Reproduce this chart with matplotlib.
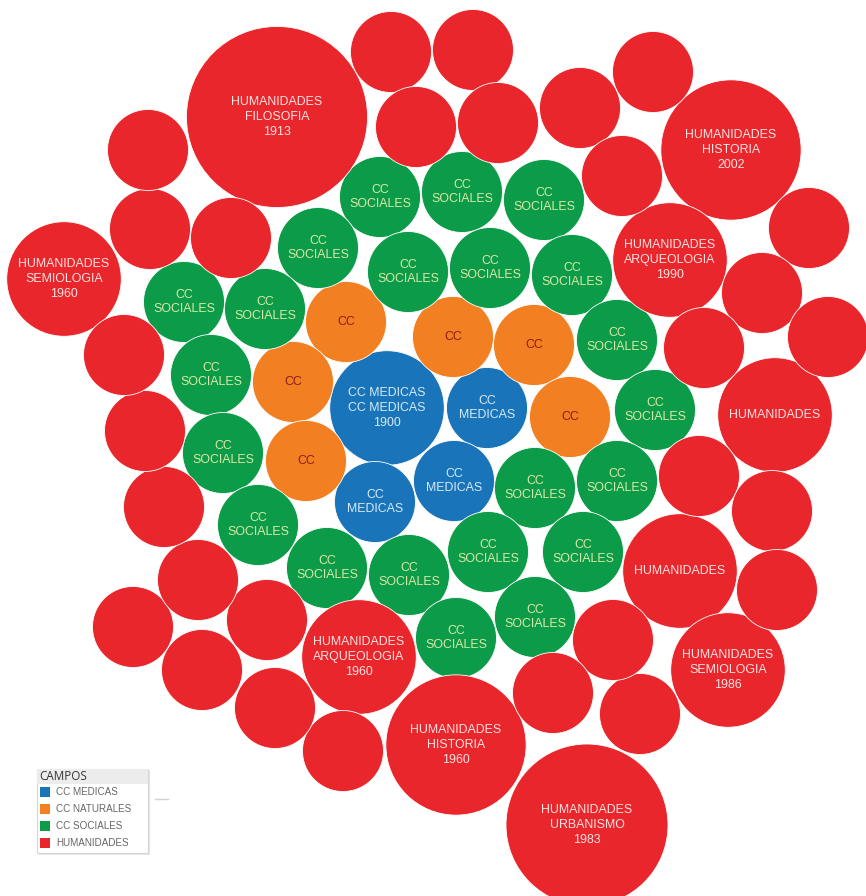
import numpy as np
import matplotlib.pyplot as plt
from matplotlib.patches import Circle, Rectangle

plt.rcParams['font.family'] = ['Liberation Sans', 'DejaVu Sans']

campos = ['CC MEDICAS', 'CC NATURALES', 'CC SOCIALES', 'HUMANIDADES']
fill = {'CC MEDICAS': '#1a74b9', 'CC NATURALES': '#f27f22',
        'CC SOCIALES': '#0c9b48', 'HUMANIDADES': '#e9262b'}
ink = {'CC MEDICAS': '#d6ebf7', 'CC NATURALES': '#8e1c14',
       'CC SOCIALES': '#d9eaa6', 'HUMANIDADES': '#fbe3e3'}

# one entry per bubble: field, label, value (area units)
med = 'CC MEDICAS'
nat = 'CC NATURALES'
soc = 'CC SOCIALES'
hum = 'HUMANIDADES'

bubble_campo = [med] * 4 + [nat] * 6 + [soc] * 22 + [hum] * 39
bubble_label = (['CC MEDICAS\nCC MEDICAS\n1900', 'CC\nMEDICAS', 'CC\nMEDICAS', 'CC\nMEDICAS']
                + ['CC'] * 6
                + ['CC\nSOCIALES'] * 22
                + ['HUMANIDADES\nFILOSOFIA\n1913', 'HUMANIDADES\nHISTORIA\n2002',
                   'HUMANIDADES\nARQUEOLOGIA\n1990', 'HUMANIDADES\nSEMIOLOGIA\n1960',
                   'HUMANIDADES', 'HUMANIDADES',
                   'HUMANIDADES\nARQUEOLOGIA\n1960', 'HUMANIDADES\nSEMIOLOGIA\n1986',
                   'HUMANIDADES\nHISTORIA\n1960', 'HUMANIDADES\nURBANISMO\n1983']
                + [''] * 29)
bubble_value = ([2, 1, 1, 1]
                + [1] * 6
                + [1] * 22
                + [5, 3, 2, 2, 2, 2, 2, 2, 3, 4]
                + [1] * 29)

# packed-bubble layout (as laid out in the original view)
pack_x = ([387, 487, 454, 375]
          + [346, 453, 534, 293, 570, 306]
          + [380, 462, 544, 318, 408, 490, 572, 184, 265, 617, 211,
             655, 223, 535, 617, 258, 488, 583, 327, 409, 535, 456]
          + [277, 731, 670, 64, 775, 680, 359, 728, 456, 587]
          + [391, 473, 416, 498, 580, 653, 622, 809, 762, 828, 704, 699,
             772, 777, 640, 613, 553, 343, 275, 267, 202, 133, 198, 164,
             145, 124, 150, 148, 231])
pack_y = ([408, 408, 481, 502]
          + [322, 337, 345, 382, 417, 461]
          + [197, 192, 200, 248, 272, 268, 275, 302, 309, 340, 375,
             410, 453, 488, 481, 525, 552, 552, 568, 575, 617, 638]
          + [117, 150, 260, 279, 415, 571, 657, 670, 745, 825]
          + [52, 50, 127, 123, 108, 72, 176, 228, 293, 337, 348, 476,
             511, 590, 714, 640, 693, 751, 708, 620, 670, 627, 580, 507,
             431, 355, 229, 150, 238])

unit_r = 40.5

fig = plt.figure(figsize=(8.66, 8.96), dpi=100)
ax = fig.add_axes([0, 0, 1, 1])
ax.set_xlim(0, 866)
ax.set_ylim(896, 0)
ax.set_aspect('equal')
ax.axis('off')

for c, lab, v, x, y in zip(bubble_campo, bubble_label, bubble_value, pack_x, pack_y):
    r = unit_r * np.sqrt(v)
    ax.add_patch(Circle((x, y), r, facecolor=fill[c], edgecolor='white', linewidth=0.6))
    if lab:
        ax.text(x, y, lab, ha='center', va='center', fontsize=8.9,
                color=ink[c], linespacing=1.28)

# legend
ax.add_patch(Rectangle((39, 771), 111, 84, facecolor='#e4e4e4', edgecolor='none'))
ax.add_patch(Rectangle((37, 769), 111, 84, facecolor='white', edgecolor='#d6d6d6', linewidth=0.8))
ax.add_patch(Rectangle((37, 769), 111, 15, facecolor='#ececec', edgecolor='none'))
ax.text(39, 777, 'CAMPOS', ha='left', va='center', fontsize=8.4,
        color='#333333', family=['Open Sans', 'DejaVu Sans'])
for i, c in enumerate(campos):
    yy = 792 + 17 * i
    ax.add_patch(Rectangle((40, yy - 5), 10, 10, facecolor=fill[c], edgecolor='none'))
    ax.text(56, yy, c, ha='left', va='center', fontsize=7.1, color='#666666')
ax.plot([155, 168], [799, 799], color='#d0d0d0', linewidth=1)

fig.savefig('out.png', dpi=100)
